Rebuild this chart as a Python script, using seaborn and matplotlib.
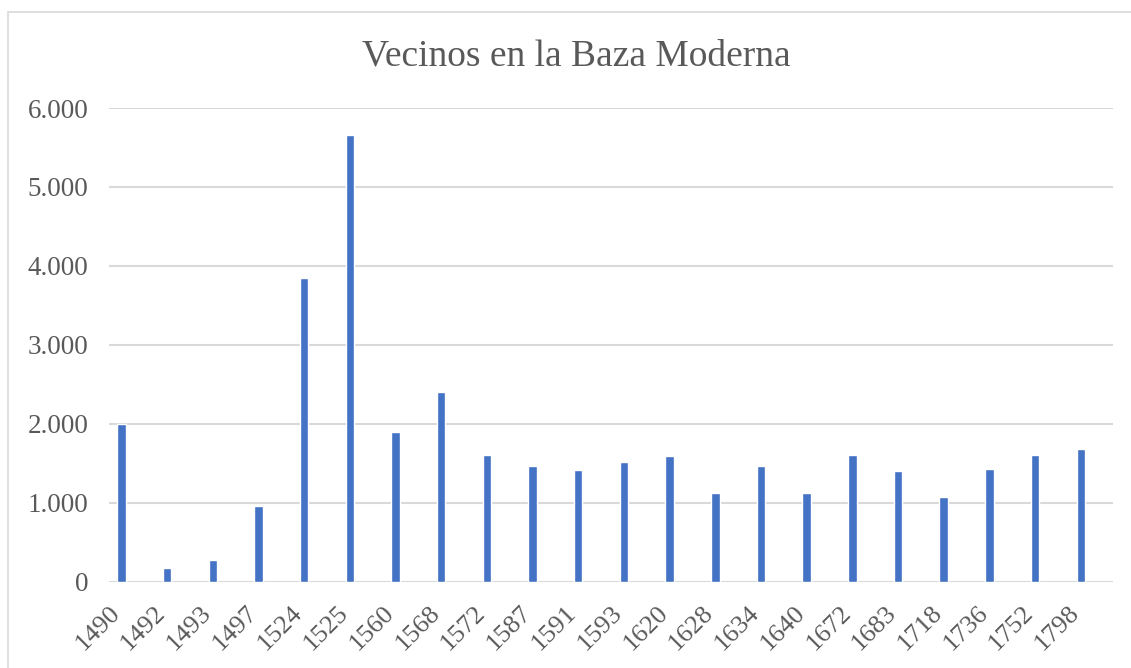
import matplotlib
matplotlib.use("Agg")
import matplotlib.pyplot as plt
from matplotlib.ticker import FuncFormatter
from matplotlib.patches import Rectangle
from matplotlib.transforms import ScaledTranslation
import seaborn as sns

years = ["1490", "1492", "1493", "1497", "1524", "1525", "1560", "1568", "1572", "1587", "1591",
         "1593", "1620", "1628", "1634", "1640", "1672", "1683", "1718", "1736", "1752", "1798"]
vecinos = [2000, 170, 270, 960, 3850, 5655, 1900, 2395, 1605, 1460, 1410,
           1512, 1595, 1120, 1460, 1120, 1600, 1395, 1065, 1430, 1600, 1680]
y_ticks = [0, 1000, 2000, 3000, 4000, 5000, 6000]

sns.set_theme(style="white")
plt.rcParams["font.family"] = ["Liberation Serif", "DejaVu Serif"]
grey = "#595959"

fig = plt.figure(figsize=(11.31, 6.68), dpi=100)
ax = fig.add_axes([109 / 1131, 1 - 581.5 / 668, (1113 - 109) / 1131, (581.5 - 108) / 668])

sns.barplot(x=years, y=vecinos, color="#4472C4", saturation=1, width=0.184, ax=ax, zorder=3)

ax.set_ylim(0, 6000)
ax.set_xlim(-0.274, 21.707)
ax.set_yticks(y_ticks)
ax.yaxis.set_major_formatter(FuncFormatter(lambda v, _: f"{int(v):,}".replace(",", ".")))
ax.grid(axis="y", color="#d9d9d9", linewidth=1.5, zorder=0)
ax.set_axisbelow(True)
for s in ax.spines.values():
    s.set_visible(False)
ax.tick_params(axis="y", labelsize=19.5, colors=grey, length=0, pad=15)
ax.tick_params(axis="x", labelsize=19, colors=grey, length=0, pad=18)
shift = ScaledTranslation(-5 / 100, -3 / 100, fig.dpi_scale_trans)
for lbl in ax.get_xticklabels():
    lbl.set_rotation(45)
    lbl.set_ha("right")
    lbl.set_va("center")
    lbl.set_rotation_mode("anchor")
    lbl.set_transform(lbl.get_transform() + shift)
ax.set_xlabel("")
ax.set_ylabel("")

fig.text(576 / 1131, 1 - 56 / 668, "Vecinos en la Baza Moderna", ha="center", va="center",
         fontsize=27, color=grey)

fig.patches.append(Rectangle((8 / 1131, -0.01), 1.0, 1 - 12 / 668 + 0.01, transform=fig.transFigure,
                             fill=False, edgecolor="#d9d9d9", linewidth=1.2))

fig.savefig("out.png", dpi=100)
